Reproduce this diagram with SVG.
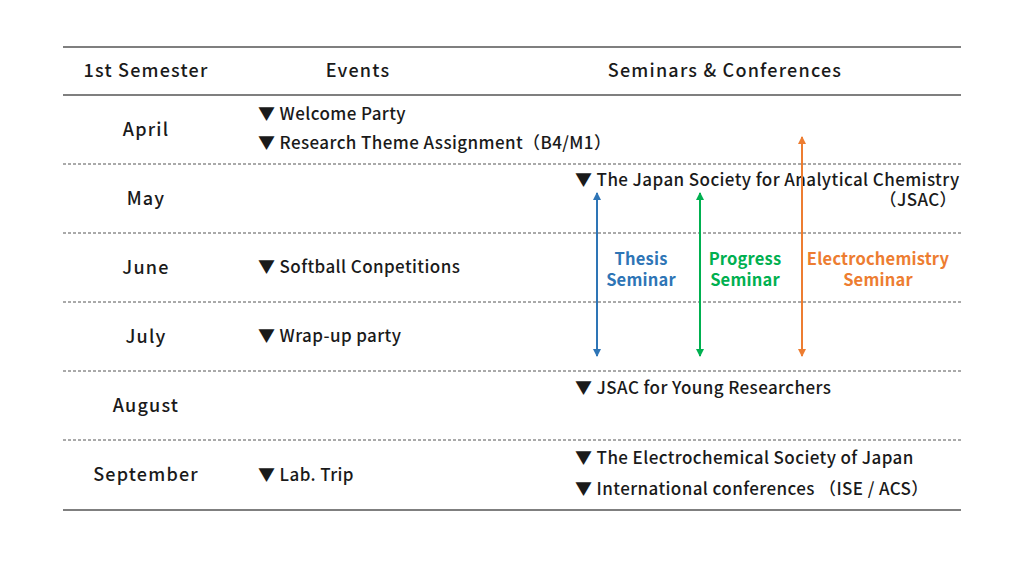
<svg xmlns="http://www.w3.org/2000/svg" width="1024" height="574" viewBox="0 0 1024 574">
<style>
text{font-family:"Noto Sans CJK JP","Noto Sans",sans-serif;font-size:17px;letter-spacing:0.4px;font-weight:500;fill:#1a1a1a}
.h{font-size:18px;letter-spacing:1.2px;text-anchor:middle}
.m{font-size:18px;letter-spacing:1.2px;text-anchor:middle}
.sl{font-size:16.5px;letter-spacing:0.2px;text-anchor:middle;font-weight:700}
.solid{stroke:#7f7f7f;stroke-width:2;fill:none}
.dash{stroke:#555;stroke-width:1;stroke-dasharray:3 2;fill:none}
</style>
<defs>
<marker id="ab" viewBox="0 0 8 8" refX="7" refY="4" markerWidth="8" markerHeight="8" markerUnits="userSpaceOnUse" orient="auto-start-reverse"><path d="M0,0 L8,4 L0,8 z" fill="#2e75b6"/></marker>
<marker id="ag" viewBox="0 0 8 8" refX="7" refY="4" markerWidth="8" markerHeight="8" markerUnits="userSpaceOnUse" orient="auto-start-reverse"><path d="M0,0 L8,4 L0,8 z" fill="#00b050"/></marker>
<marker id="ao" viewBox="0 0 8 8" refX="7" refY="4" markerWidth="8" markerHeight="8" markerUnits="userSpaceOnUse" orient="auto-start-reverse"><path d="M0,0 L8,4 L0,8 z" fill="#ed7d31"/></marker>
</defs>
<rect width="1024" height="574" fill="#fff"/>
<g id="grid">
<line class="solid" x1="63" y1="47" x2="961" y2="47"/>
<line class="solid" x1="63" y1="95" x2="961" y2="95"/>
<line class="dash" x1="63" y1="164" x2="961" y2="164"/>
<line class="dash" x1="63" y1="233" x2="961" y2="233"/>
<line class="dash" x1="63" y1="302" x2="961" y2="302"/>
<line class="dash" x1="63" y1="371" x2="961" y2="371"/>
<line class="dash" x1="63" y1="440" x2="961" y2="440"/>
<line class="solid" x1="63" y1="510" x2="961" y2="510"/>
</g>
<g id="header">
<text class="h" x="146" y="77">1st Semester</text>
<text class="h" x="358" y="77">Events</text>
<text class="h" x="725" y="77">Seminars &amp;  Conferences</text>
</g>
<g id="months">
<text class="m" x="146" y="136">April</text>
<text class="m" x="146" y="205">May</text>
<text class="m" x="146" y="274">June</text>
<text class="m" x="146" y="343">July</text>
<text class="m" x="146" y="412">August</text>
<text class="m" x="146" y="481">September</text>
</g>
<g id="events">
<text x="258" y="120">▼ Welcome Party</text>
<text x="258" y="149">▼ Research Theme Assignment（B4/M1）</text>
<text x="258" y="273">▼ Softball Conpetitions</text>
<text x="258" y="342">▼ Wrap-up party</text>
<text x="258" y="481">▼ Lab. Trip</text>
</g>
<g id="conferences">
<text x="575" y="186">▼ The Japan Society for Analytical Chemistry</text>
<text x="957" y="206" text-anchor="end">（JSAC）</text>
<text x="575" y="394">▼ JSAC for Young Researchers</text>
<text x="575" y="464">▼ The Electrochemical Society of Japan</text>
<text x="575" y="495">▼ International conferences （ISE / ACS）</text>
</g>
<g id="connectors">
<line x1="597" y1="193" x2="597" y2="356" stroke="#2e75b6" stroke-width="2" marker-start="url(#ab)" marker-end="url(#ab)"/>
<line x1="700" y1="193" x2="700" y2="356" stroke="#00b050" stroke-width="2" marker-start="url(#ag)" marker-end="url(#ag)"/>
<line x1="802" y1="137" x2="802" y2="356" stroke="#ed7d31" stroke-width="2" marker-start="url(#ao)" marker-end="url(#ao)"/>
</g>
<g id="seminars">
<text class="sl" x="641" y="265" style="fill:#2e75b6">Thesis</text>
<text class="sl" x="641" y="286" style="fill:#2e75b6">Seminar</text>
<text class="sl" x="745" y="265" style="fill:#00b050">Progress</text>
<text class="sl" x="745" y="286" style="fill:#00b050">Seminar</text>
<text class="sl" x="878" y="265" style="fill:#ed7d31">Electrochemistry</text>
<text class="sl" x="878" y="286" style="fill:#ed7d31">Seminar</text>
</g>
</svg>
